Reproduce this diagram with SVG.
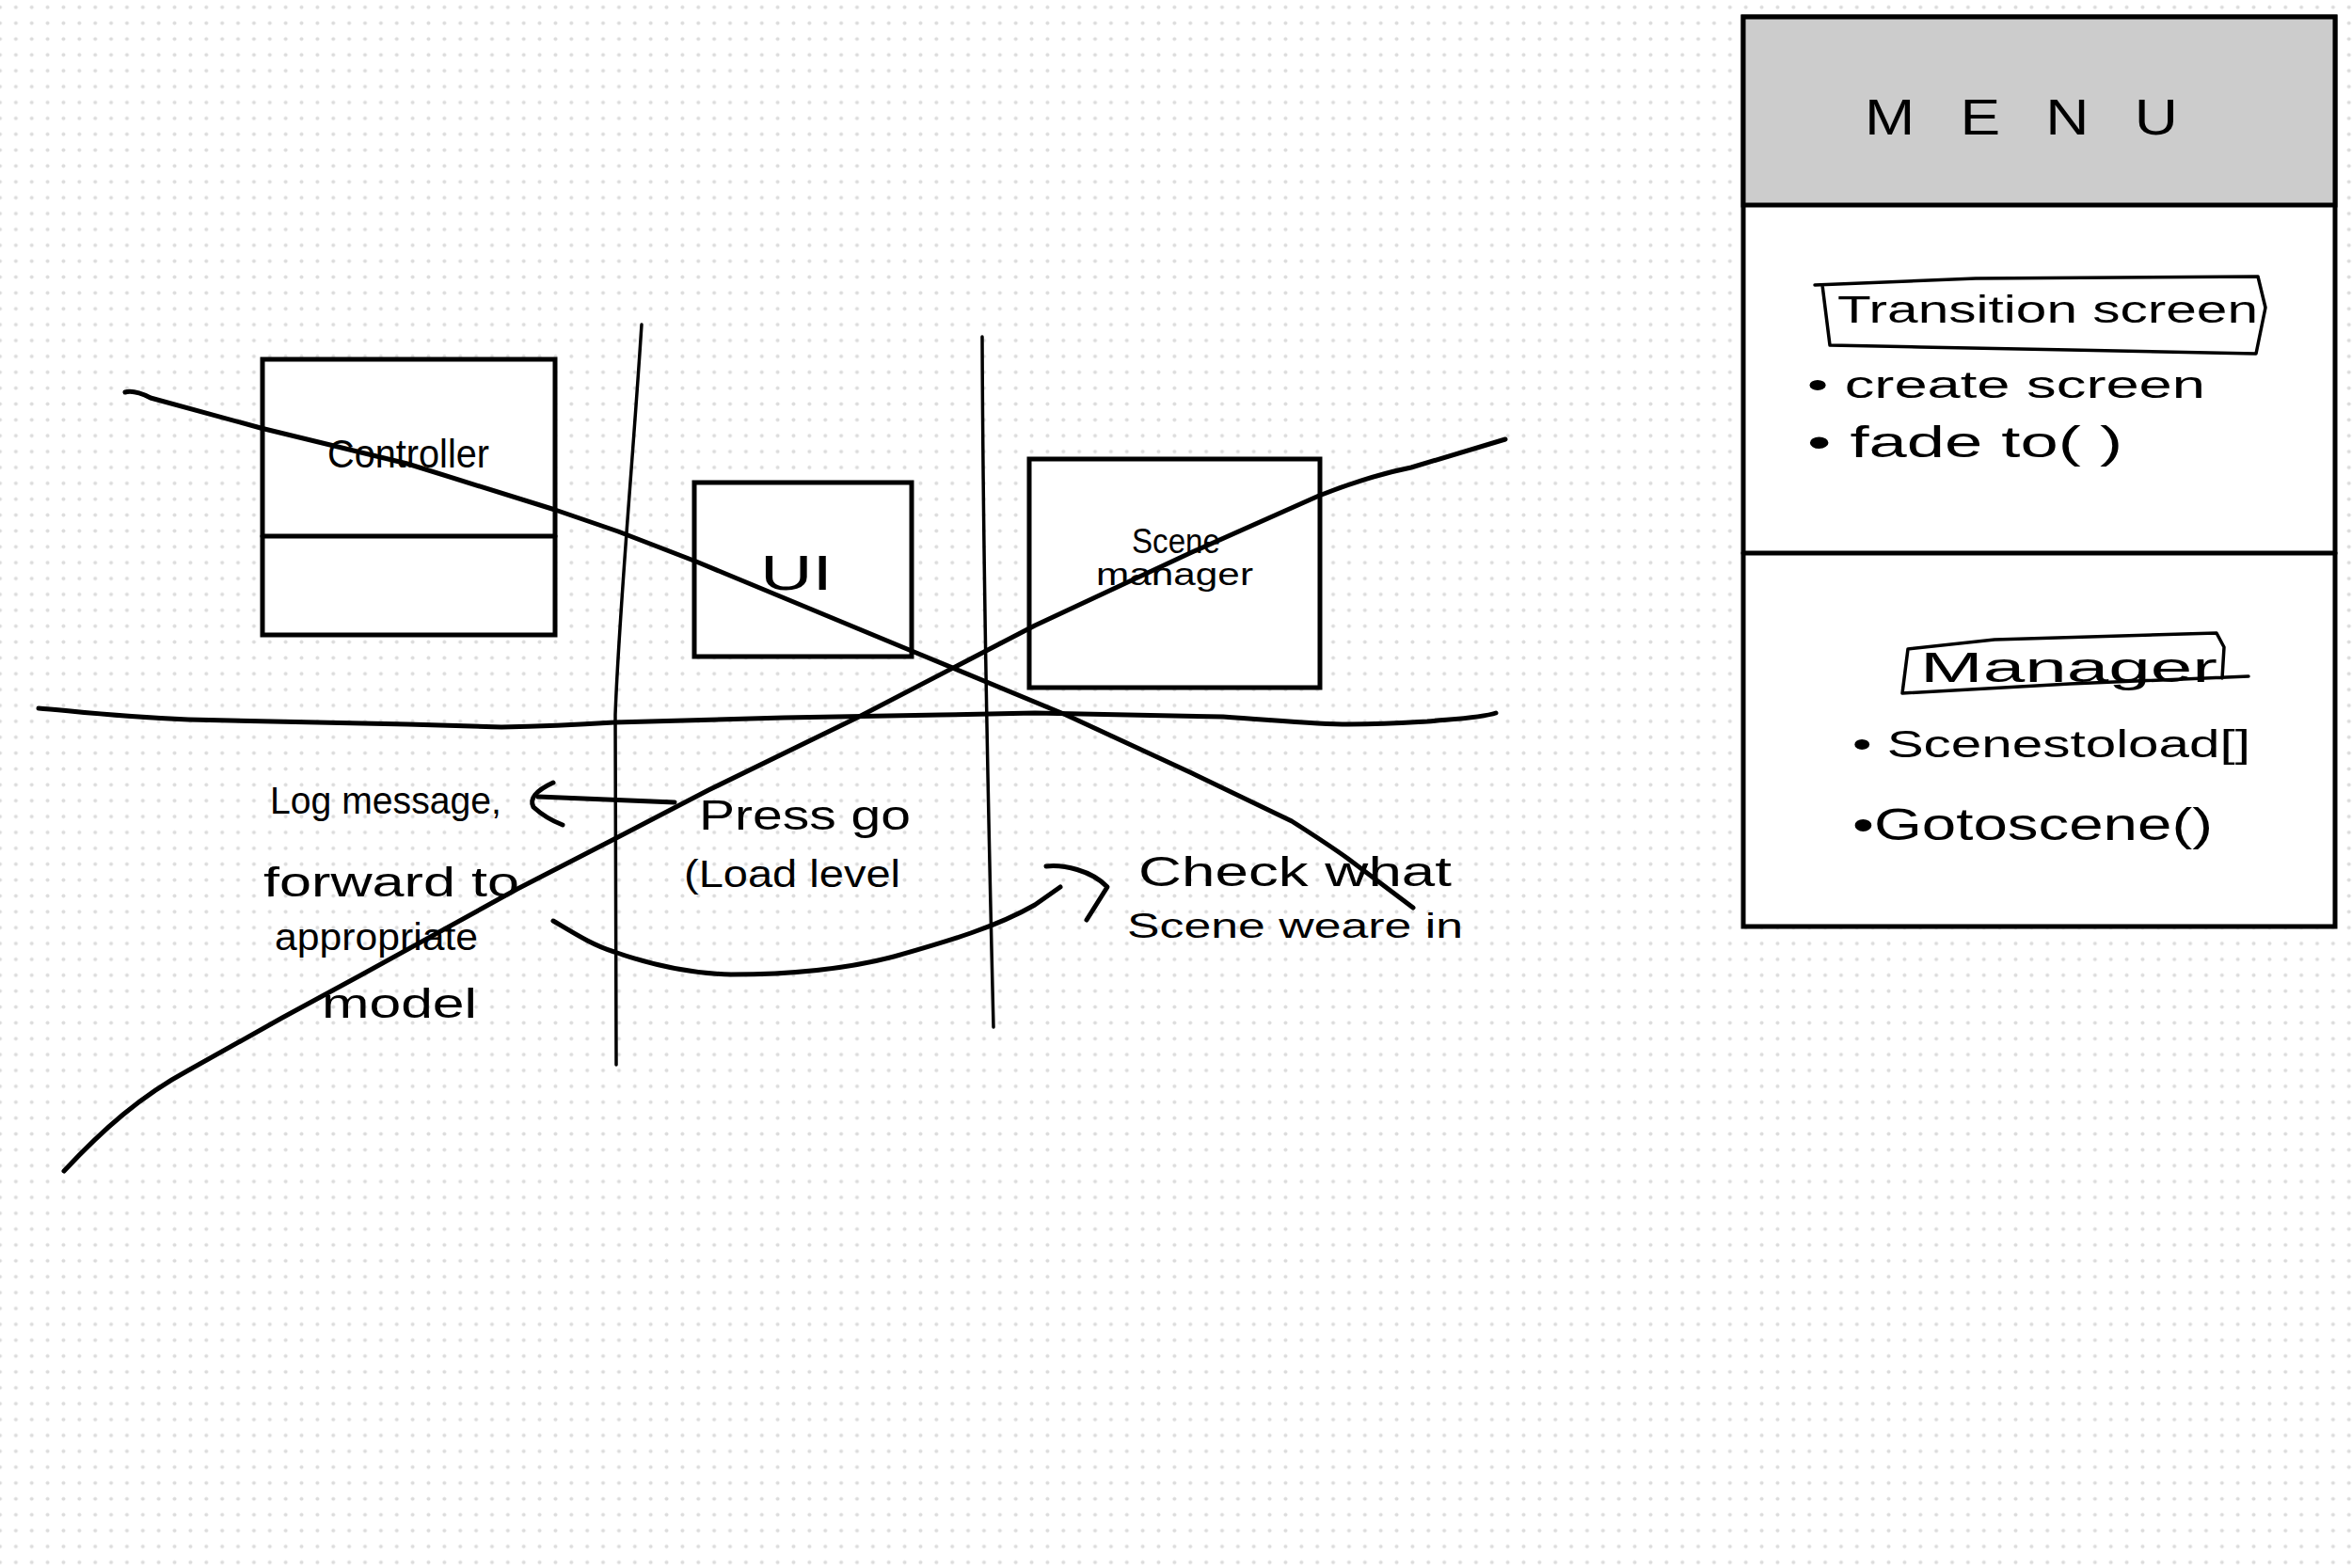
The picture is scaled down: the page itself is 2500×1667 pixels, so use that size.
<svg xmlns="http://www.w3.org/2000/svg" width="2500" height="1667" viewBox="0 0 2500 1667">
<defs>
<pattern id="dots" patternUnits="userSpaceOnUse" x="-8.43" y="-0.7" width="16.87" height="16.87">
<circle cx="8.43" cy="8.43" r="2" fill="#dcdcdc"/>
</pattern>
<style>
.box{fill:#fff;stroke:#000;stroke-width:5}
.ln{fill:none;stroke:#000;stroke-width:5;stroke-linecap:round;stroke-linejoin:round}
.thin{fill:none;stroke:#000;stroke-width:3.5;stroke-linecap:round;stroke-linejoin:round}
.hw{font-family:"Liberation Sans","DejaVu Sans",sans-serif;fill:#000}
</style>
</defs>
<rect width="2500" height="1667" fill="#fff"/>
<rect width="2500" height="1667" fill="url(#dots)"/>

<g id="controller">
<rect class="box" x="279" y="382" width="311" height="293"/>
<line class="ln" x1="279" y1="570" x2="590" y2="570"/>
<text class="hw" x="348" y="497" font-size="42" textLength="172" lengthAdjust="spacingAndGlyphs">Controller</text>
</g>
<g id="ui">
<rect class="box" x="738" y="513" width="231" height="185"/>
<text class="hw" x="808" y="627" font-size="52" textLength="77" lengthAdjust="spacingAndGlyphs">UI</text>
</g>
<g id="scene-manager">
<rect class="box" x="1094" y="488" width="309" height="243"/>
<text class="hw" x="1203" y="588" font-size="36" textLength="94" lengthAdjust="spacingAndGlyphs">Scene</text>
<text class="hw" x="1165" y="622" font-size="34" textLength="167" lengthAdjust="spacingAndGlyphs">manager</text>
</g>

<g id="menu">
<rect x="1853" y="18" width="629" height="967" fill="#fff" stroke="#000" stroke-width="5"/>
<rect x="1853" y="18" width="629" height="200" fill="#cccccc" stroke="#000" stroke-width="5"/>
<line class="ln" x1="1853" y1="588" x2="2482" y2="588"/>
<text class="hw" x="1982" y="143" font-size="64" textLength="333" lengthAdjust="spacing" transform="translate(1982 143) scale(1 0.85) translate(-1982 -143)">MENU</text>
<path class="thin" d="M1929,303 L2100,296 L2400,294 L2408,327 L2398,376 L2200,372 L2041,369 L1945,367 L1937,303"/>
<text class="hw" x="1953" y="343" font-size="40" textLength="447" lengthAdjust="spacingAndGlyphs">Transition screen</text>
<text class="hw" x="1921" y="423" font-size="40" textLength="423" lengthAdjust="spacingAndGlyphs">• create screen</text>
<text class="hw" x="1921" y="486" font-size="46" textLength="335" lengthAdjust="spacingAndGlyphs">• fade to( )</text>
<path class="thin" d="M2028,690 L2120,680 L2356,673 L2364,688 L2362,721 M2022,737 L2028,690 M2022,737 L2200,727 L2390,719"/>
<text class="hw" x="2041" y="725" font-size="44" textLength="316" lengthAdjust="spacingAndGlyphs">Manager</text>
<text class="hw" x="1969" y="805" font-size="40" textLength="423" lengthAdjust="spacingAndGlyphs">• Scenestoload[]</text>
<text class="hw" x="1969" y="893" font-size="48" textLength="383" lengthAdjust="spacingAndGlyphs">•Gotoscene()</text>
</g>

<g id="labels">
<text class="hw" x="287" y="865" font-size="40" textLength="246" lengthAdjust="spacingAndGlyphs">Log message,</text>
<text class="hw" x="280" y="953" font-size="44" textLength="272" lengthAdjust="spacingAndGlyphs">forward to</text>
<text class="hw" x="292" y="1010" font-size="40" textLength="216" lengthAdjust="spacingAndGlyphs">appropriate</text>
<text class="hw" x="342" y="1082" font-size="44" textLength="165" lengthAdjust="spacingAndGlyphs">model</text>
<text class="hw" x="743" y="882" font-size="44" textLength="225" lengthAdjust="spacingAndGlyphs">Press go</text>
<text class="hw" x="727" y="943" font-size="40" textLength="230" lengthAdjust="spacingAndGlyphs">(Load level</text>
<text class="hw" x="1210" y="942" font-size="44" textLength="333" lengthAdjust="spacingAndGlyphs">Check what</text>
<text class="hw" x="1198" y="997" font-size="36" textLength="357" lengthAdjust="spacingAndGlyphs">Scene weare in</text>
</g>

<g id="connectors">
<path class="thin" d="M682,345 C672,500 658,650 654,760 L655,1132"/>
<path class="thin" d="M1044,358 C1045,600 1050,850 1056,1092"/>
<path class="ln" d="M41,753 C70,755 120,762 200,765 L433,770 L533,773 C580,772 620,770 653,768 L833,763 L1000,760 L1100,758 L1300,762 C1360,766 1400,770 1433,770 C1480,770 1500,768 1517,767 C1550,764 1575,763 1590,758"/>
<path class="ln" d="M133,417 C140,415 150,418 160,423 L277,455 L433,493 L590,542 L657,565 L740,597 L969,692 L1133,760 L1267,822 L1373,873 C1395,887 1415,900 1433,913 L1502,965"/>
<path class="ln" d="M68,1245 C110,1200 150,1165 200,1138 L300,1082 L383,1037 L550,945 L653,892 L753,840 L913,762 L1100,665 L1267,587 L1402,527 C1440,512 1470,503 1500,497 L1600,467"/>
<path class="ln" d="M717,853 L572,847"/>
<path class="ln" d="M588,832 Q560,845 567,858 Q580,870 598,877"/>
<path class="ln" d="M588,979 C610,992 630,1005 653,1012 C690,1025 730,1035 777,1036 C840,1036 900,1030 950,1017 C1010,1000 1060,985 1100,962 L1127,943"/>
<path class="ln" d="M1112,921 C1130,919 1160,925 1177,943 L1155,978"/>
</g>
</svg>
